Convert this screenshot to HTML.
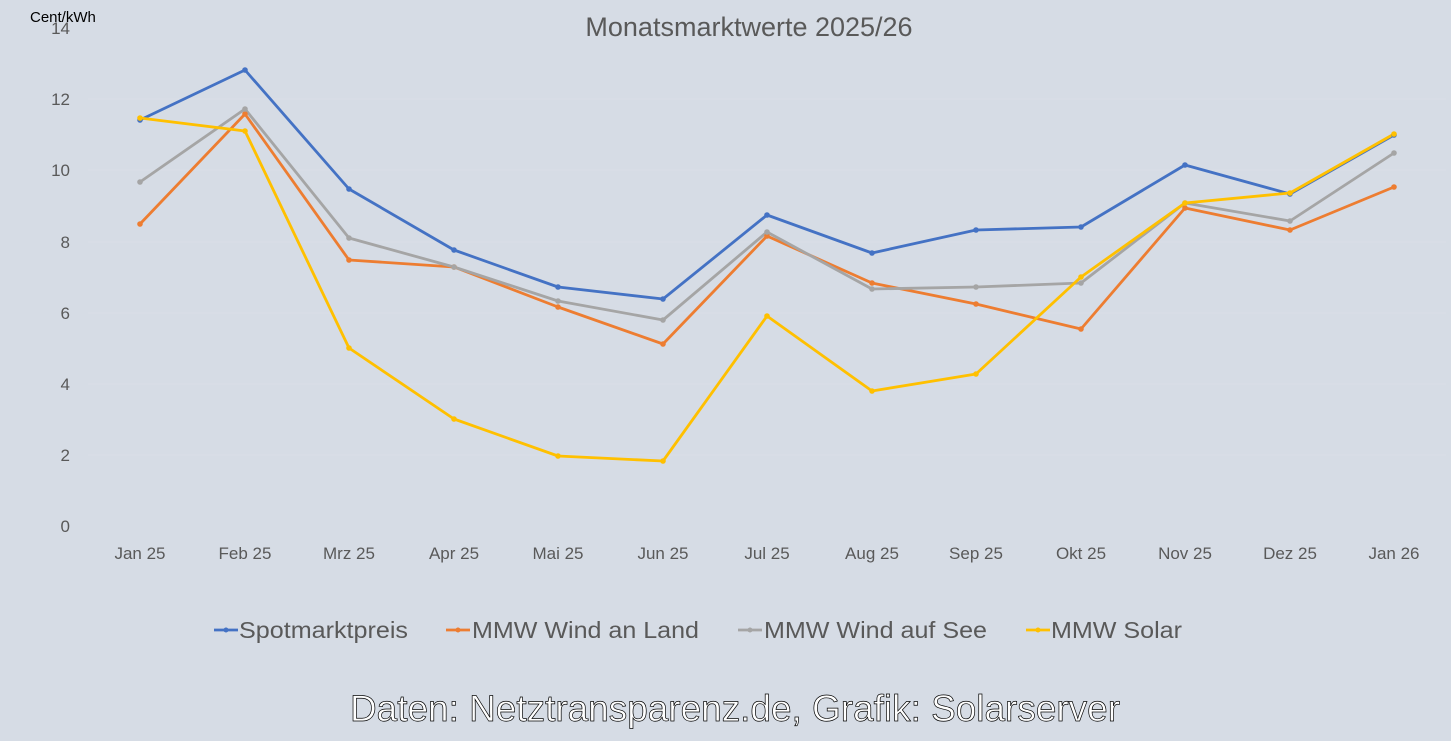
<!DOCTYPE html>
<html><head><meta charset="utf-8"><style>
html,body{margin:0;padding:0;background:#d6dce5;}
svg{display:block;}
text{font-family:"Liberation Sans",sans-serif;}
</style></head><body>
<svg width="1451" height="741" viewBox="0 0 1451 741" xmlns="http://www.w3.org/2000/svg">
<rect width="1451" height="741" fill="#d6dce5"/>
<g stroke="#d9dee7" stroke-width="1">
<line x1="88" y1="99" x2="1446" y2="99"/>
<line x1="88" y1="170" x2="1446" y2="170"/><line x1="88" y1="242" x2="1446" y2="242"/>
<line x1="88" y1="313" x2="1446" y2="313"/><line x1="88" y1="384" x2="1446" y2="384"/>
<line x1="88" y1="455" x2="1446" y2="455"/>
</g>
<text x="749" y="36" font-size="27" fill="#595959" text-anchor="middle">Monatsmarktwerte 2025/26</text>
<text x="30" y="22" font-size="15" fill="#000">Cent/kWh</text>
<g font-size="17" fill="#595959" text-anchor="end">
<text x="70" y="532">0</text><text x="70" y="461">2</text><text x="70" y="390">4</text>
<text x="70" y="319">6</text><text x="70" y="248">8</text><text x="70" y="176">10</text>
<text x="70" y="105">12</text><text x="70" y="34">14</text>
</g>
<g font-size="17" fill="#595959" text-anchor="middle">
<text x="140" y="559">Jan 25</text><text x="245" y="559">Feb 25</text><text x="349" y="559">Mrz 25</text>
<text x="454" y="559">Apr 25</text><text x="558" y="559">Mai 25</text><text x="663" y="559">Jun 25</text>
<text x="767" y="559">Jul 25</text><text x="872" y="559">Aug 25</text><text x="976" y="559">Sep 25</text>
<text x="1081" y="559">Okt 25</text><text x="1185" y="559">Nov 25</text><text x="1290" y="559">Dez 25</text>
<text x="1394" y="559">Jan 26</text>
</g>
<g fill="none" stroke-width="2.8" stroke-linejoin="round">
<polyline stroke="#4472c4" points="140,120 245,70 349,189 454,250 558,287 663,299 767,215 872,253 976,230 1081,227 1185,165 1290,194 1394,135"/>
<polyline stroke="#ed7d31" points="140,224 245,114 349,260 454,267 558,307 663,344 767,236 872,283 976,304 1081,329 1185,208 1290,230 1394,187"/>
<polyline stroke="#a5a5a5" points="140,182 245,109 349,238 454,267 558,301 663,320 767,232 872,289 976,287 1081,283 1185,203 1290,221 1394,153"/>
<polyline stroke="#ffc000" points="140,118 245,131 349,348 454,419 558,456 663,461 767,316 872,391 976,374 1081,277 1185,203 1290,193 1394,134"/>
</g>
<g fill="#4472c4"><circle cx="140" cy="120" r="2.8"/><circle cx="245" cy="70" r="2.8"/><circle cx="349" cy="189" r="2.8"/><circle cx="454" cy="250" r="2.8"/><circle cx="558" cy="287" r="2.8"/><circle cx="663" cy="299" r="2.8"/><circle cx="767" cy="215" r="2.8"/><circle cx="872" cy="253" r="2.8"/><circle cx="976" cy="230" r="2.8"/><circle cx="1081" cy="227" r="2.8"/><circle cx="1185" cy="165" r="2.8"/><circle cx="1290" cy="194" r="2.8"/><circle cx="1394" cy="135" r="2.8"/></g>
<g fill="#ed7d31"><circle cx="140" cy="224" r="2.8"/><circle cx="245" cy="114" r="2.8"/><circle cx="349" cy="260" r="2.8"/><circle cx="454" cy="267" r="2.8"/><circle cx="558" cy="307" r="2.8"/><circle cx="663" cy="344" r="2.8"/><circle cx="767" cy="236" r="2.8"/><circle cx="872" cy="283" r="2.8"/><circle cx="976" cy="304" r="2.8"/><circle cx="1081" cy="329" r="2.8"/><circle cx="1185" cy="208" r="2.8"/><circle cx="1290" cy="230" r="2.8"/><circle cx="1394" cy="187" r="2.8"/></g>
<g fill="#a5a5a5"><circle cx="140" cy="182" r="2.8"/><circle cx="245" cy="109" r="2.8"/><circle cx="349" cy="238" r="2.8"/><circle cx="454" cy="267" r="2.8"/><circle cx="558" cy="301" r="2.8"/><circle cx="663" cy="320" r="2.8"/><circle cx="767" cy="232" r="2.8"/><circle cx="872" cy="289" r="2.8"/><circle cx="976" cy="287" r="2.8"/><circle cx="1081" cy="283" r="2.8"/><circle cx="1185" cy="203" r="2.8"/><circle cx="1290" cy="221" r="2.8"/><circle cx="1394" cy="153" r="2.8"/></g>
<g fill="#ffc000"><circle cx="140" cy="118" r="2.8"/><circle cx="245" cy="131" r="2.8"/><circle cx="349" cy="348" r="2.8"/><circle cx="454" cy="419" r="2.8"/><circle cx="558" cy="456" r="2.8"/><circle cx="663" cy="461" r="2.8"/><circle cx="767" cy="316" r="2.8"/><circle cx="872" cy="391" r="2.8"/><circle cx="976" cy="374" r="2.8"/><circle cx="1081" cy="277" r="2.8"/><circle cx="1185" cy="203" r="2.8"/><circle cx="1290" cy="193" r="2.8"/><circle cx="1394" cy="134" r="2.8"/></g>
<g stroke-width="2.8">
<line x1="214" y1="630" x2="238" y2="630" stroke="#4472c4"/><circle cx="226" cy="630" r="2.5" fill="#4472c4"/>
<line x1="446" y1="630" x2="470" y2="630" stroke="#ed7d31"/><circle cx="458" cy="630" r="2.5" fill="#ed7d31"/>
<line x1="738" y1="630" x2="762" y2="630" stroke="#a5a5a5"/><circle cx="750" cy="630" r="2.5" fill="#a5a5a5"/>
<line x1="1026" y1="630" x2="1050" y2="630" stroke="#ffc000"/><circle cx="1038" cy="630" r="2.5" fill="#ffc000"/>
</g>
<g font-size="23" fill="#595959">
<text x="239" y="638" textLength="169" lengthAdjust="spacingAndGlyphs">Spotmarktpreis</text>
<text x="472" y="638" textLength="227" lengthAdjust="spacingAndGlyphs">MMW Wind an Land</text>
<text x="764" y="638" textLength="223" lengthAdjust="spacingAndGlyphs">MMW Wind auf See</text>
<text x="1051" y="638" textLength="131" lengthAdjust="spacingAndGlyphs">MMW Solar</text>
</g>
<text x="350" y="721" font-size="37" fill="#fff" stroke="#000" stroke-width="0.7" textLength="770" lengthAdjust="spacingAndGlyphs">Daten: Netztransparenz.de, Grafik: Solarserver</text>
</svg>
</body></html>
